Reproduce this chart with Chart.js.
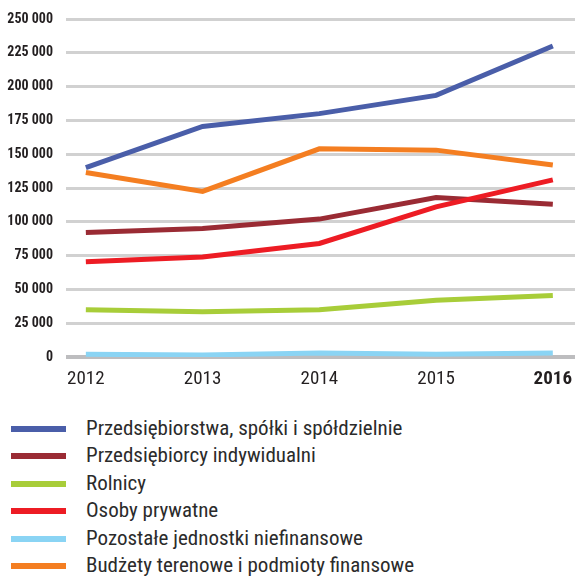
<!DOCTYPE html>
<html>
<head>
<meta charset="utf-8">
<script src="https://cdn.jsdelivr.net/npm/chart.js@4"></script>
<style>
  body { margin: 0; background: #fff; }
  #wrap { position: relative; width: 575px; height: 576px; overflow: hidden; }
  #box { position: absolute; left: 0; top: 0; width: 575px; height: 400px; }
  #legend { position: absolute; left: 0; top: 415px; margin: 0; padding: 0; list-style: none;
    font-family: "Roboto Condensed", "DejaVu Sans Condensed", sans-serif; font-size: 21px; color: #2b2b2b; }
  #legend li { position: relative; height: 27.4px; line-height: 27.4px; padding-left: 86px; white-space: nowrap; }
  #legend li span { position: absolute; left: 11px; top: 11px; width: 55px; height: 6px; }
</style>
</head>
<body>
<div id="wrap">
  <div id="box"><canvas id="chart"></canvas></div>
  <ul id="legend"></ul>
</div>
<script>
const years = [2012, 2013, 2014, 2015, 2016];
const seriesNames = [
  "Przedsiębiorstwa, spółki i spółdzielnie",
  "Przedsiębiorcy indywidualni",
  "Rolnicy",
  "Osoby prywatne",
  "Pozostałe jednostki niefinansowe",
  "Budżety terenowe i podmioty finansowe"
];
const przedsiebiorstwa = [140000, 170500, 180000, 193500, 230000];
const przedsiebiorcy = [92000, 95000, 102000, 118000, 113000];
const rolnicy = [35000, 33500, 35000, 42000, 45500];
const osobyPrywatne = [70500, 74000, 84000, 111000, 131000];
const pozostale = [2000, 1500, 3000, 2000, 3000];
const budzety = [136500, 122500, 154000, 153000, 142000];
const yTicks = [0, 25000, 50000, 75000, 100000, 125000, 150000, 175000, 200000, 225000, 250000];

const colors = ["#4a5ea9", "#9a2b34", "#a8cd39", "#ed1c24", "#8ad4f4", "#f47e21"];
const values = [przedsiebiorstwa, przedsiebiorcy, rolnicy, osobyPrywatne, pozostale, budzety];
const drawOrder = [1, 3, 2, 2, 4, 3];
const fontFam = "'Roboto Condensed', 'DejaVu Sans Condensed', sans-serif";

const datasets = seriesNames.map((name, i) => ({
  label: name,
  data: years.map((y, j) => ({ x: y, y: values[i][j] })),
  borderColor: colors[i],
  backgroundColor: colors[i],
  borderWidth: 5,
  pointRadius: 0,
  tension: 0,
  fill: false,
  order: drawOrder[i]
}));

const fmt = v => String(v).replace(/\B(?=(\d{3})+(?!\d))/g, " ");

new Chart(document.getElementById("chart"), {
  type: "line",
  data: { datasets },
  options: {
    responsive: true,
    maintainAspectRatio: false,
    animation: false,
    layout: { padding: { top: 19, right: 0, left: 0, bottom: 0 } },
    plugins: { legend: { display: false }, tooltip: { enabled: false } },
    scales: {
      x: {
        type: "linear",
        min: 2011.83,
        max: 2016.19,
        afterBuildTicks: axis => { axis.ticks = years.map(v => ({ value: v })); },
        afterFit: axis => { axis.height = 43; axis.paddingLeft = 0; axis.paddingRight = 0; },
        grid: { display: false },
        border: { display: false },
        ticks: {
          padding: 3,
          color: "#231f20",
          callback: v => String(v),
          font: c => ({ family: fontFam, size: 19, weight: c.tick && c.tick.value === 2016 ? "bold" : "normal" })
        }
      },
      y: {
        min: 0,
        max: 250000,
        afterBuildTicks: axis => { axis.ticks = yTicks.map(v => ({ value: v })); },
        afterFit: axis => { axis.width = 66; axis.paddingTop = 0; axis.paddingBottom = 0; },
        border: { display: false },
        grid: {
          drawTicks: false,
          color: c => c.tick && c.tick.value === 0 ? "#bdbdbf" : "#d1d1d1",
          lineWidth: c => c.tick && c.tick.value === 0 ? 4 : 3
        },
        ticks: {
          padding: 13,
          color: "#231f20",
          font: { family: fontFam, size: 14, weight: "bold" },
          callback: v => fmt(v)
        }
      }
    }
  }
});

const legend = document.getElementById("legend");
seriesNames.forEach((name, i) => {
  const li = document.createElement("li");
  const sw = document.createElement("span");
  sw.style.background = colors[i];
  li.appendChild(sw);
  li.appendChild(document.createTextNode(name));
  legend.appendChild(li);
});
</script>
</body>
</html>
